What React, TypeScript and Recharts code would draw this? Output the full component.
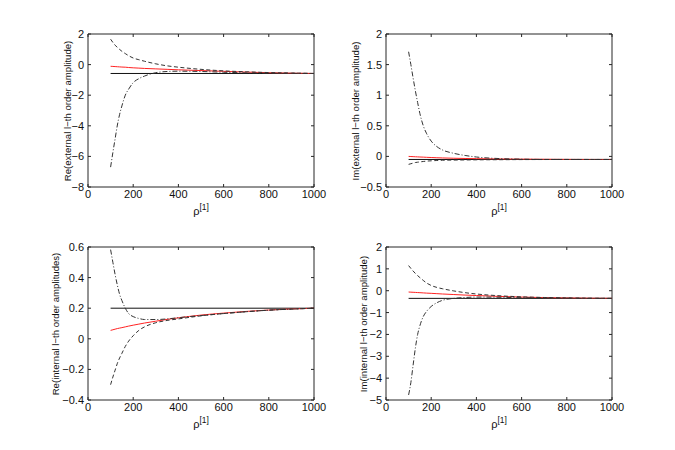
import { LineChart, Line, XAxis, YAxis, ReferenceArea } from "recharts";

// abscissa, shared by every panel
const rho = [100, 110, 120, 130, 140, 150, 165, 180, 200, 225, 250, 300, 350, 400, 500, 600, 700, 800, 900, 1000];
const rhoEnds = [100, 1000];
const xTicks = [0, 200, 400, 600, 800, 1000];

// Re(external l-th order amplitude)
const reExtLimit = [-0.58, -0.58];
const reExtRed = [-0.11, -0.12, -0.13, -0.14, -0.15, -0.16, -0.17, -0.19, -0.21, -0.23, -0.25, -0.28, -0.31, -0.34, -0.39, -0.44, -0.49, -0.53, -0.56, -0.58];
const reExtDashed = [1.66, 1.45, 1.27, 1.12, 0.99, 0.87, 0.72, 0.58, 0.43, 0.32, 0.22, 0.05, -0.08, -0.17, -0.31, -0.41, -0.47, -0.52, -0.55, -0.58];
const reExtDashDot = [-6.7, -5.75, -4.85, -3.95, -3.25, -2.7, -2.0, -1.6, -1.18, -0.92, -0.75, -0.53, -0.45, -0.43, -0.45, -0.5, -0.54, -0.56, -0.57, -0.58];
const reExtTicks = [-8, -6, -4, -2, 0, 2];

// Im(external l-th order amplitude)
const imExtLimit = [-0.05, -0.05];
const imExtRed = [0.0, -0.002, -0.004, -0.006, -0.008, -0.01, -0.012, -0.015, -0.018, -0.022, -0.025, -0.03, -0.034, -0.037, -0.042, -0.045, -0.047, -0.049, -0.05, -0.05];
const imExtDashed = [-0.13, -0.12, -0.11, -0.1, -0.095, -0.09, -0.083, -0.077, -0.072, -0.067, -0.063, -0.06, -0.058, -0.056, -0.054, -0.052, -0.051, -0.05, -0.05, -0.05];
const imExtDashDot = [1.71, 1.5, 1.28, 1.07, 0.88, 0.7, 0.5, 0.37, 0.25, 0.16, 0.105, 0.05, 0.015, -0.01, -0.035, -0.045, -0.05, -0.05, -0.05, -0.05];
const imExtTicks = [-0.5, 0, 0.5, 1, 1.5, 2];

// Re(internal l-th order amplitudes)
const reIntLimit = [0.2, 0.2];
const reIntRed = [0.055, 0.059, 0.063, 0.067, 0.07, 0.073, 0.078, 0.083, 0.089, 0.096, 0.103, 0.115, 0.127, 0.137, 0.155, 0.168, 0.179, 0.188, 0.195, 0.2];
const reIntDashed = [-0.3, -0.25, -0.205, -0.16, -0.125, -0.095, -0.05, -0.015, 0.02, 0.055, 0.078, 0.105, 0.12, 0.13, 0.15, 0.165, 0.177, 0.187, 0.194, 0.2];
const reIntDashDot = [0.583, 0.5, 0.42, 0.35, 0.29, 0.25, 0.2, 0.165, 0.145, 0.133, 0.126, 0.126, 0.13, 0.138, 0.152, 0.165, 0.177, 0.187, 0.194, 0.2];
const reIntTicks = [-0.4, -0.2, 0, 0.2, 0.4, 0.6];

// Im(internal l-th order amplitude)
const imIntLimit = [-0.35, -0.35];
const imIntRed = [-0.06, -0.066, -0.072, -0.078, -0.084, -0.09, -0.1, -0.11, -0.12, -0.135, -0.15, -0.175, -0.2, -0.22, -0.26, -0.29, -0.315, -0.33, -0.343, -0.35];
const imIntDashed = [1.15, 1.02, 0.9, 0.79, 0.69, 0.6, 0.47, 0.35, 0.24, 0.15, 0.09, -0.01, -0.09, -0.15, -0.23, -0.28, -0.31, -0.33, -0.34, -0.35];
const imIntDashDot = [-4.77, -4.2, -3.4, -2.62, -2.0, -1.6, -1.18, -0.94, -0.72, -0.55, -0.44, -0.35, -0.31, -0.29, -0.3, -0.32, -0.33, -0.34, -0.35, -0.35];
const imIntTicks = [-5, -4, -3, -2, -1, 0, 1, 2];

const FONT = '"Liberation Sans", Arial, Helvetica, sans-serif';
const AXIS = "#262626";
const PLOT_W = 226;
const PLOT_H = 153;
const TICK = 3;

const fmt = (v: number) => String(v).replace("-", "\u2212");

function makeXTick(top: number, bottom: number) {
  return (props: any) => {
    const { x, payload } = props;
    return (
      <g>
        <line x1={x} x2={x} y1={bottom} y2={bottom - TICK} stroke={AXIS} />
        <line x1={x} x2={x} y1={top} y2={top + TICK} stroke={AXIS} />
        <text x={x} y={bottom + 11} textAnchor="middle" fontSize={11} fontFamily={FONT} fill="#111">
          {fmt(payload.value)}
        </text>
      </g>
    );
  };
}

function makeYTick(left: number, right: number) {
  return (props: any) => {
    const { y, payload } = props;
    return (
      <g>
        <line x1={left} x2={left + TICK} y1={y} y2={y} stroke={AXIS} />
        <line x1={right} x2={right - TICK} y1={y} y2={y} stroke={AXIS} />
        <text x={left - 4} y={y + 4} textAnchor="end" fontSize={11} fontFamily={FONT} fill="#111">
          {fmt(payload.value)}
        </text>
      </g>
    );
  };
}

type PanelProps = {
  chartLeft: number;
  chartTop: number;
  plotLeft: number;
  plotTop: number;
  limit: number[];
  red: number[];
  dashed: number[];
  dashDot: number[];
  yTicks: number[];
};

function Panel({ chartLeft, chartTop, plotLeft, plotTop, limit, red, dashed, dashDot, yTicks }: PanelProps) {
  const width = 337;
  const height = 225;
  const axisW = plotLeft - chartLeft;
  const top = plotTop - chartTop;
  const right = width - axisW - PLOT_W;
  const xAxisH = height - top - PLOT_H;
  const rows = rho.map((r, i) => ({ rho: r, red: red[i], dashed: dashed[i], dashDot: dashDot[i] }));
  const limitRows = rhoEnds.map((r, i) => ({ rho: r, limit: limit[i] }));
  const yMin = yTicks[0];
  const yMax = yTicks[yTicks.length - 1];

  return (
    <div style={{ position: "absolute", left: chartLeft, top: chartTop }}>
      <LineChart width={width} height={height} data={rows} margin={{ top, right, bottom: 0, left: 0 }}>
        <XAxis
          dataKey="rho"
          type="number"
          domain={[0, 1000]}
          ticks={xTicks}
          interval={0}
          height={xAxisH}
          axisLine={false}
          tickLine={false}
          tick={makeXTick(top, top + PLOT_H)}
        />
        <YAxis
          type="number"
          domain={[yMin, yMax]}
          ticks={yTicks}
          interval={0}
          width={axisW}
          axisLine={false}
          tickLine={false}
          tick={makeYTick(axisW, axisW + PLOT_W)}
        />
        <ReferenceArea x1={0} x2={1000} y1={yMin} y2={yMax} fill="none" stroke={AXIS} strokeWidth={1} ifOverflow="visible" />
        <Line data={limitRows} dataKey="limit" stroke="#111" strokeWidth={1} dot={false} activeDot={false} isAnimationActive={false} />
        <Line dataKey="red" type="monotone" stroke="#f22" strokeWidth={1} dot={false} activeDot={false} isAnimationActive={false} />
        <Line dataKey="dashed" type="monotone" stroke="#333" strokeWidth={1} strokeDasharray="4 2.5" dot={false} activeDot={false} isAnimationActive={false} />
        <Line dataKey="dashDot" type="monotone" stroke="#333" strokeWidth={1} strokeDasharray="5 2 1 2" dot={false} activeDot={false} isAnimationActive={false} />
      </LineChart>
    </div>
  );
}

const yLabels = [
  { text: "Re(external l\u2212th order amplitude)", x: 67, y: 111 },
  { text: "Im(external l\u2212th order amplitude)", x: 355, y: 111 },
  { text: "Re(internal l\u2212th order amplitudes)", x: 55, y: 324 },
  { text: "Im(internal l\u2212th order amplitude)", x: 363, y: 324 },
];
const xLabels = [
  { x: 201, y: 215 },
  { x: 499, y: 215 },
  { x: 201, y: 428 },
  { x: 499, y: 428 },
];

export default function App() {
  return (
    <div style={{ position: "absolute", left: 0, top: 0, width: 675, height: 450, background: "#fff" }}>
      <Panel chartLeft={0} chartTop={0} plotLeft={88} plotTop={34} limit={reExtLimit} red={reExtRed} dashed={reExtDashed} dashDot={reExtDashDot} yTicks={reExtTicks} />
      <Panel chartLeft={337} chartTop={0} plotLeft={386} plotTop={34} limit={imExtLimit} red={imExtRed} dashed={imExtDashed} dashDot={imExtDashDot} yTicks={imExtTicks} />
      <Panel chartLeft={0} chartTop={225} plotLeft={88} plotTop={247} limit={reIntLimit} red={reIntRed} dashed={reIntDashed} dashDot={reIntDashDot} yTicks={reIntTicks} />
      <Panel chartLeft={337} chartTop={225} plotLeft={386} plotTop={247} limit={imIntLimit} red={imIntRed} dashed={imIntDashed} dashDot={imIntDashDot} yTicks={imIntTicks} />
      <svg width={675} height={450} style={{ position: "absolute", left: 0, top: 0, pointerEvents: "none" }}>
        {yLabels.map((l) => (
          <text
            key={l.text}
            transform={`translate(${l.x},${l.y}) rotate(-90)`}
            textAnchor="middle"
            dominantBaseline="central"
            fontSize={9.6}
            fontFamily={FONT}
            fill="#111"
          >
            {l.text}
          </text>
        ))}
        {xLabels.map((l, i) => (
          <text key={i} x={l.x} y={l.y} textAnchor="middle" fontSize={11} fontFamily={FONT} fill="#111">
            ρ
            <tspan fontSize={8.5} dy={-5}>[1]</tspan>
          </text>
        ))}
      </svg>
    </div>
  );
}
